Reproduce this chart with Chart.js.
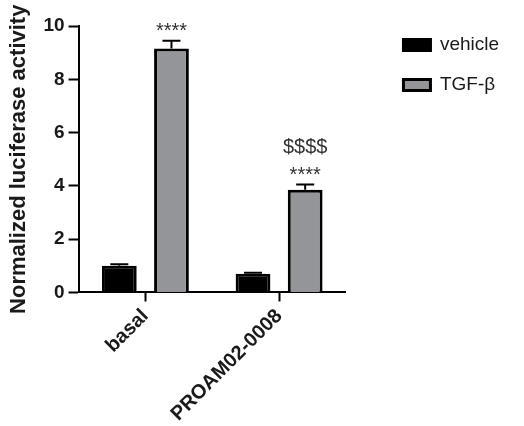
<!DOCTYPE html>
<html>
<head>
<meta charset="utf-8">
<title>Normalized luciferase activity</title>
<script src="https://cdn.jsdelivr.net/npm/chart.js@4.4.1/dist/chart.umd.min.js"></script>
<style>
  html, body { margin: 0; padding: 0; background: #fff; }
  #wrap { width: 524px; height: 426px; }
</style>
</head>
<body>
<div id="wrap"><canvas id="chart" width="524" height="426"></canvas></div>
<script>
// valeurs
const categories = ["basal", "PROAM02-0008"];
const seriesNames = ["vehicle", "TGF-\u03b2"];
const vehicleMeans = [1.0, 0.7];
const vehicleErrors = [0.06, 0.04];
const tgfMeans = [9.16, 3.86];
const tgfErrors = [0.29, 0.19];
const tgfMarks = [["****"], ["$$$$", "****"]];
const yTicks = [0, 2, 4, 6, 8, 10];

const FONT = "'Liberation Sans', Arial, Helvetica, sans-serif";
const errorSets = [vehicleErrors, tgfErrors];

// barres d'erreur (vers le haut seulement) + étoiles au-dessus des barres TGF
const errorBars = {
  id: 'errorBars',
  afterDatasetsDraw(chart) {
    const ctx = chart.ctx;
    const y = chart.scales.y;
    chart.data.datasets.forEach((ds, di) => {
      const meta = chart.getDatasetMeta(di);
      meta.data.forEach((bar, i) => {
        const top = y.getPixelForValue(ds.data[i] + errorSets[di][i]);
        ctx.save();
        ctx.strokeStyle = '#000';
        ctx.lineWidth = 2;
        ctx.beginPath();
        ctx.moveTo(bar.x, bar.y);
        ctx.lineTo(bar.x, top);
        ctx.moveTo(bar.x - 9, top);
        ctx.lineTo(bar.x + 9, top);
        ctx.stroke();
        if (di === 1) {
          const lines = tgfMarks[i];
          ctx.fillStyle = '#333';
          ctx.font = "20px " + FONT;
          ctx.textAlign = 'center';
          ctx.textBaseline = 'alphabetic';
          for (let k = 0; k < lines.length; k++) {
            const txt = lines[lines.length - 1 - k];
            ctx.fillText(txt, bar.x, top - 4 - k * 28);
          }
        }
        ctx.restore();
      });
    });
  }
};

const GAP = 36.5;

const myChart = new Chart(document.getElementById("chart"), {
  type: 'bar',
  data: {
    labels: categories,
    datasets: [
      {
        label: seriesNames[0],
        data: vehicleMeans,
        backgroundColor: '#000000',
        borderColor: '#000000',
        borderWidth: 3
      },
      {
        label: seriesNames[1],
        data: tgfMeans,
        backgroundColor: '#939598',
        borderColor: '#000000',
        borderWidth: 3
      }
    ]
  },
  options: {
    responsive: false,
    animation: false,
    devicePixelRatio: 1,
    categoryPercentage: 0.78,
    barPercentage: 0.667,
    layout: { padding: { left: 0, top: 14.5, right: 14.9, bottom: -3 } },
    plugins: {
      tooltip: { enabled: false },
      legend: {
        position: 'right',
        align: 'start',
        maxWidth: 140,
        labels: {
          boxWidth: 27,
          boxHeight: 11,
          padding: 21,
          color: '#1a1a1a',
          font: { family: FONT, size: 19 }
        }
      }
    },
    scales: {
      x: {
        grid: {
          display: true,
          drawOnChartArea: false,
          offset: false,
          tickLength: 9,
          tickWidth: 2,
          tickColor: '#000'
        },
        border: { display: true, color: '#000', width: 2 },
        ticks: {
          color: '#1a1a1a',
          font: { family: FONT, size: 20, weight: 'bold' },
          minRotation: 45,
          maxRotation: 45,
          autoSkip: false,
          padding: 3
        }
      },
      y: {
        min: 0,
        max: 10,
        afterBuildTicks: s => { s.ticks = yTicks.map(v => ({ value: v })); },
        grid: {
          display: true,
          drawOnChartArea: false,
          tickLength: 10,
          tickWidth: 2,
          tickColor: '#000'
        },
        border: { display: true, color: '#000', width: 2 },
        ticks: {
          color: '#1a1a1a',
          font: { family: FONT, size: 19, weight: 'bold', lineHeight: 2.32 },
          autoSkip: false,
          padding: 4
        },
        title: {
          display: true,
          text: 'Normalized luciferase activity',
          color: '#1a1a1a',
          font: { family: FONT, size: 22, weight: 'bold' },
          padding: { top: 6, bottom: 7 }
        }
      },
      gap: {
        type: 'linear',
        position: 'right',
        grid: { display: false },
        border: { display: false },
        ticks: { display: false },
        afterFit: s => { s.width = GAP; }
      }
    }
  },
  plugins: [errorBars]
});
</script>
</body>
</html>
